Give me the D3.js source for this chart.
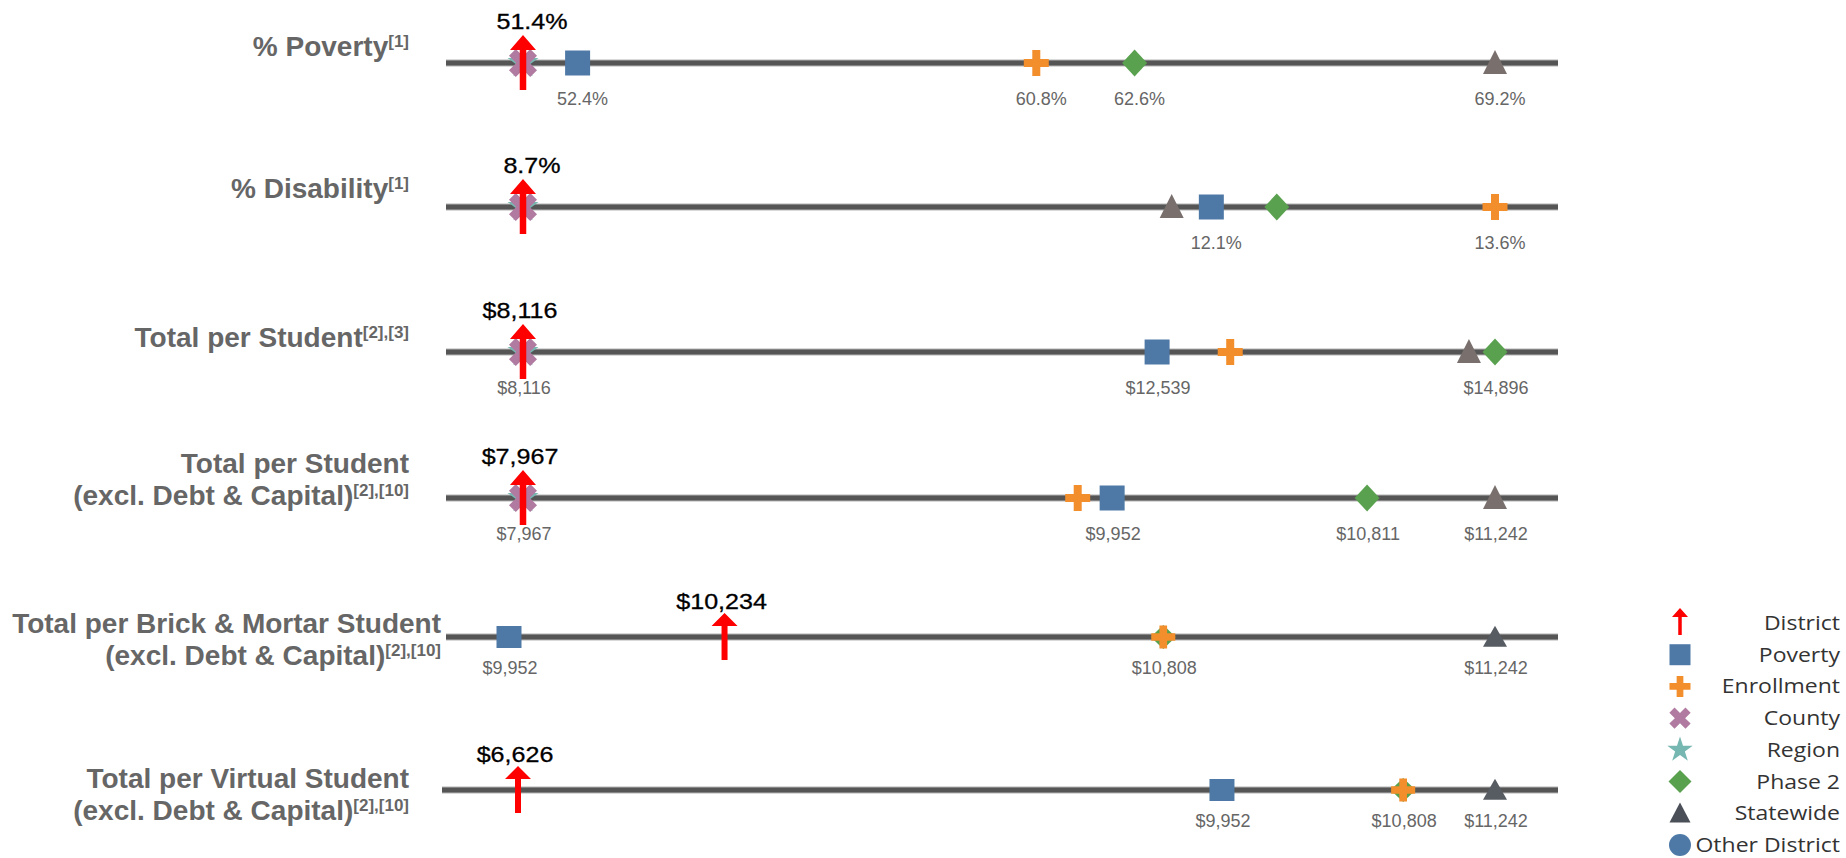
<!DOCTYPE html>
<html>
<head>
<meta charset="utf-8">
<script src="https://cdn.jsdelivr.net/npm/d3@7"></script>
<style>
  body { margin: 0; background: #fff; }
  svg { display: block; }
</style>
</head>
<body>
<svg width="1846" height="858"></svg>
<script>
// metric titles and footnote marks
var titles = [["% Poverty"], ["% Disability"], ["Total per Student"],
  ["Total per Student", "(excl. Debt & Capital)"],
  ["Total per Brick & Mortar Student", "(excl. Debt & Capital)"],
  ["Total per Virtual Student", "(excl. Debt & Capital)"]];
var notes = ["[1]", "[1]", "[2],[3]", "[2],[10]", "[2],[10]", "[2],[10]"];
var units = ["pct", "pct", "usd", "usd", "usd", "usd"];

// values per comparison group (null = not shown)
var district   = [51.4, 8.66, 8116, 7967, 10234, 6626];
var poverty    = [52.4, 12.13, 12539, 9952, 9952, 9952];
var enrollment = [60.8, 13.56, 13049, 9836, 10808, 10808];
var county     = [51.4, 8.66, 8116, 7967, null, null];
var region     = [51.4, 8.66, 8116, 7967, null, null];
var phase2     = [62.6, 12.46, 14896, 10811, 10808, 10808];
var statewide  = [69.2, 11.93, 14714, 11242, 11242, 11242];

// which marks carry a value label under the line
var labelled = [["poverty", "enrollment", "phase2", "statewide"],
  ["poverty", "enrollment"],
  ["county", "poverty", "phase2"],
  ["county", "poverty", "phase2", "statewide"],
  ["poverty", "phase2", "statewide"],
  ["poverty", "phase2", "statewide"]];

var legendNames = ["District", "Poverty", "Enrollment", "County", "Region", "Phase 2", "Statewide", "Other District"];

// layout
var lineY = [63, 207, 352, 498, 637, 790];
var titleY = [56, 198, 347, 473, 633, 788];
var titleX = [409, 409, 409, 409, 441, 409];
var lineStart = [446, 446, 446, 446, 446, 442];
var padLeft = [77, 77, 77, 77, 63, 76];
var lineEnd = 1558, padRight = 63;
var sheet = [0, 0, 0, 0, 1, 1];

var styles = [
  {sq: [25, 25], plus: [25, 26], dia: [25, 27], tri: [24, 24], x: 25, star: 300,
   arrow: {top: -28, bot: 27, hw: 13, hh: 15, sw: 6.5}, topDy: -34, botDy: 42, triColor: "#79706e"},
  {sq: [25, 22], plus: [24, 23], dia: [25, 24], tri: [24, 21], x: 23, star: 260,
   arrow: {top: -24, bot: 23, hw: 13, hh: 13, sw: 6}, topDy: -28, botDy: 37, triColor: "#575c63"}
];

var fmt = {
  pct: function(v) { return d3.format(".1f")(v) + "%"; },
  usd: d3.format("$,.0f")
};
var topDx = {pct: 9, usd: -3}, botDx = {pct: 5, usd: 1};

var svg = d3.select("svg");

// shape paths centred on 0,0
function shape(kind, w, h) {
  if (kind == "square") return "M" + (-w / 2) + "," + (-h / 2) + "h" + w + "v" + h + "h" + (-w) + "Z";
  if (kind == "diamond") return "M0," + (-h / 2) + "L" + (w / 2) + ",0L0," + (h / 2) + "L" + (-w / 2) + ",0Z";
  if (kind == "triangle") return "M0," + (-h * 0.54) + "L" + (w / 2) + "," + (h * 0.46) + "L" + (-w / 2) + "," + (h * 0.46) + "Z";
  if (kind == "plus") {
    var a = w / 2, b = h / 2, t = w * 0.16;
    return "M" + (-t) + "," + (-b) + "H" + t + "V" + (-t) + "H" + a + "V" + t + "H" + t + "V" + b +
      "H" + (-t) + "V" + t + "H" + (-a) + "V" + (-t) + "H" + (-t) + "Z";
  }
}

function arrowPath(st) {
  var s = st.sw / 2, top = st.top, base = st.top + st.hh;
  return "M0," + top + "L" + st.hw + "," + base + "L" + s + "," + base + "L" + s + "," + st.bot +
    "L" + (-s) + "," + st.bot + "L" + (-s) + "," + base + "L" + (-st.hw) + "," + base + "Z";
}

function drawMark(g, kind, x, y, color, st) {
  if (kind == "x") {
    g.append("path").attr("d", shape("plus", st.x * 1.2, st.x * 1.2))
      .attr("transform", "translate(" + x + "," + y + ") rotate(45)").attr("fill", color);
  } else if (kind == "star") {
    g.append("path").attr("d", d3.symbol(d3.symbolStar, st.star)())
      .attr("transform", "translate(" + x + "," + y + ")").attr("fill", color);
  } else {
    var dims = kind == "square" ? st.sq : kind == "plus" ? st.plus : kind == "diamond" ? st.dia : st.tri;
    g.append("path").attr("d", shape(kind, dims[0], dims[1]))
      .attr("transform", "translate(" + x + "," + y + ")").attr("fill", color);
  }
}

// draw order: back to front
var layers = [
  {key: "statewide", vals: statewide, kind: "triangle", color: null},
  {key: "phase2", vals: phase2, kind: "diamond", color: "#59a14f"},
  {key: "region", vals: region, kind: "star", color: "#76b7b2"},
  {key: "county", vals: county, kind: "x", color: "#b07aa1"},
  {key: "poverty", vals: poverty, kind: "square", color: "#4e79a7"},
  {key: "enrollment", vals: enrollment, kind: "plus", color: "#f28e2b"}
];

titles.forEach(function(lines, i) {
  var st = styles[sheet[i]];
  var y = lineY[i];
  var g = svg.append("g");

  // title, last line gets the footnote
  lines.forEach(function(txt, j) {
    var t = g.append("text").attr("x", titleX[i]).attr("y", titleY[i] + j * 32)
      .attr("text-anchor", "end").attr("font-family", "Liberation Sans, Arial, sans-serif")
      .attr("font-weight", "bold").attr("font-size", 28).attr("fill", "#666").text(txt);
    if (j == lines.length - 1) {
      t.append("tspan").attr("font-size", 17).attr("dy", -9).text(notes[i]);
    }
  });

  var all = [district[i]];
  layers.forEach(function(l) { if (l.vals[i] != null) all.push(l.vals[i]); });
  var x = d3.scaleLinear().domain(d3.extent(all))
    .range([lineStart[i] + padLeft[i], lineEnd - padRight]);

  // the rule
  g.append("line").attr("x1", lineStart[i]).attr("x2", lineEnd).attr("y1", y).attr("y2", y)
    .attr("stroke", "#b4b4b4").attr("stroke-width", 7);
  g.append("line").attr("x1", lineStart[i]).attr("x2", lineEnd).attr("y1", y).attr("y2", y)
    .attr("stroke", "#555").attr("stroke-width", 5);

  layers.forEach(function(l) {
    var v = l.vals[i];
    if (v == null) return;
    drawMark(g, l.kind, x(v), y, l.color || st.triColor, st);
  });

  // district arrow + its label (label is a bit wide in the original)
  g.append("path").attr("d", arrowPath(st.arrow))
    .attr("transform", "translate(" + x(district[i]) + "," + y + ")").attr("fill", "#ff0000");
  g.append("text")
    .attr("transform", "translate(" + (x(district[i]) + topDx[units[i]]) + "," + (y + st.topDy) + ") scale(1.14,1)")
    .attr("text-anchor", "middle").attr("font-family", "Liberation Sans, Arial, sans-serif")
    .attr("font-size", 22).attr("fill", "#000").attr("stroke", "#000").attr("stroke-width", 0.3)
    .text(fmt[units[i]](district[i]));

  // value labels below
  labelled[i].forEach(function(k) {
    var l = layers.find(function(d) { return d.key == k; });
    var v = l.vals[i];
    g.append("text").attr("x", x(v) + botDx[units[i]]).attr("y", y + st.botDy)
      .attr("text-anchor", "middle").attr("font-family", "Liberation Sans, Arial, sans-serif")
      .attr("font-size", 18).attr("fill", "#666").text(fmt[units[i]](v));
  });
});

// legend
var ly = d3.scalePoint().domain(legendNames).range([623, 845]);
var lg = svg.append("g");
var lx = 1680;
var lst = {sq: [21, 21], plus: [21, 21], dia: [23, 23], tri: [21, 20], x: 19, star: 200};
lg.append("path").attr("d", arrowPath({top: -15, bot: 12, hw: 8, hh: 9, sw: 3.5}))
  .attr("transform", "translate(" + lx + "," + ly("District") + ")").attr("fill", "#ff0000");
drawMark(lg, "square", lx, ly("Poverty"), "#4e79a7", lst);
drawMark(lg, "plus", lx, ly("Enrollment"), "#f28e2b", lst);
drawMark(lg, "x", lx, ly("County"), "#b07aa1", lst);
drawMark(lg, "star", lx, ly("Region"), "#76b7b2", lst);
drawMark(lg, "diamond", lx, ly("Phase 2"), "#59a14f", lst);
drawMark(lg, "triangle", lx, ly("Statewide"), "#4a4f58", lst);
lg.append("path").attr("d", d3.symbol(d3.symbolCircle, 380)())
  .attr("transform", "translate(" + lx + "," + ly("Other District") + ")").attr("fill", "#4e79a7");

lg.selectAll("text.leg").data(legendNames).enter().append("text")
  .attr("class", "leg")
  .attr("transform", function(d) { return "translate(1840," + ly(d) + ") scale(1.15,1)"; })
  .attr("dy", "0.35em").attr("text-anchor", "end")
  .attr("font-family", "Open Sans, sans-serif").attr("font-size", 20).attr("fill", "#333")
  .text(function(d) { return d; });
</script>
</body>
</html>
